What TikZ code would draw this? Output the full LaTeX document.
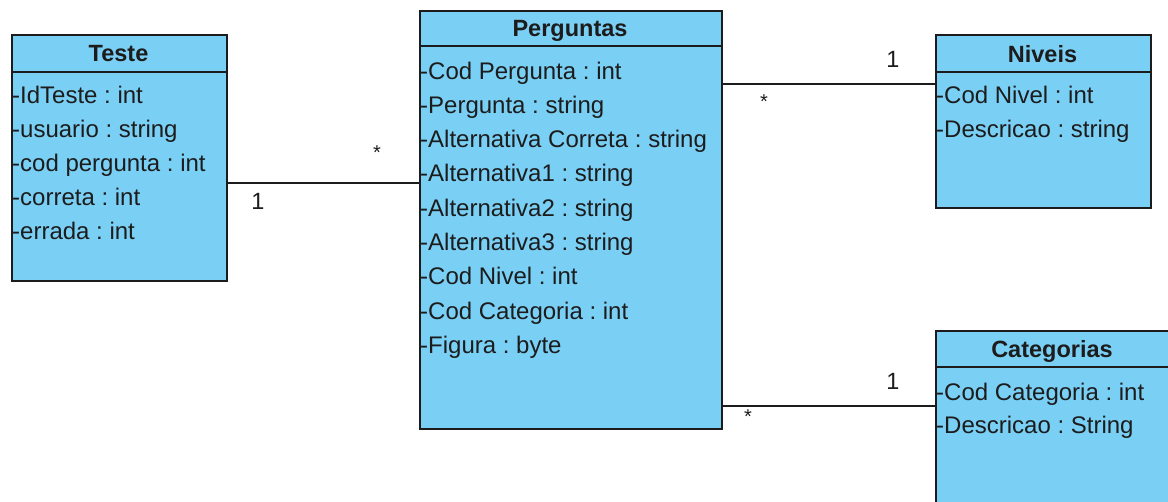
\documentclass[tikz,border=0pt]{standalone}
\usepackage{fontspec}
\setmainfont{Liberation Sans}
\frenchspacing
\definecolor{classfill}{RGB}{122,207,245}
\definecolor{ink}{RGB}{28,28,28}
\begin{document}
\begin{tikzpicture}[x=1pt,y=-1pt,
  classbox/.style={draw=ink, fill=classfill, line width=1.6pt, rectangle, inner sep=0pt, anchor=north west},
  divider/.style={draw=ink, line width=1.6pt},
  classtitle/.style={font=\fontsize{23.5}{28}\selectfont\bfseries, text=ink, inner sep=0pt, anchor=base},
  attr/.style={font=\fontsize{24}{28}\selectfont, text=ink, inner sep=0pt, anchor=base west},
  assoc/.style={draw=ink, line width=1.6pt},
  mult/.style={font=\fontsize{23.5}{28}\selectfont, text=ink, inner sep=0pt, anchor=base},
  star/.style={font=\fontsize{20}{24}\selectfont, text=ink, inner sep=0pt, anchor=north}]
\useasboundingbox (0,0) rectangle (1168,501);
\clip (0,0) rectangle (1168,501);

% class Teste
\node[classbox, minimum width=215pt, minimum height=246pt] (teste) at (11,34) {};
\draw[divider] (teste.west |- 0,72) -- (teste.east |- 0,72);
\node[classtitle] (teste-t) at (118.5,61) {Teste};
\foreach \txt [count=\i from 0] in {-IdTeste : int,-usuario : string,-cod pergunta : int,-correta : int,-errada : int}
  \node[attr] (teste-\i) at (12,103+34*\i) {\txt};

% class Perguntas
\node[classbox, minimum width=302pt, minimum height=418pt] (perg) at (419,10) {};
\draw[divider] (perg.west |- 0,46) -- (perg.east |- 0,46);
\node[classtitle] (perg-t) at (570,36) {Perguntas};
\foreach \txt [count=\i from 0] in {-Cod Pergunta : int,-Pergunta : string,-Alternativa Correta : string,-Alternativa1 : string,-Alternativa2 : string,-Alternativa3 : string,-Cod Nivel : int,-Cod Categoria : int,-Figura : byte}
  \node[attr] (perg-\i) at (420,79+34.3*\i) {\txt};

% class Niveis
\node[classbox, minimum width=215pt, minimum height=173pt] (niv) at (935,34) {};
\draw[divider] (niv.west |- 0,72) -- (niv.east |- 0,72);
\node[classtitle] (niv-t) at (1042.5,62) {Niveis};
\foreach \txt [count=\i from 0] in {-Cod Nivel : int,-Descricao : string}
  \node[attr] (niv-\i) at (936,103+34*\i) {\txt};

% class Categorias
\node[classbox, minimum width=240pt, minimum height=200pt] (cat) at (935,330) {};
\draw[divider] (cat.west |- 0,367) -- (cat.east |- 0,367);
\node[classtitle] (cat-t) at (1052,357) {Categorias};
\foreach \txt [count=\i from 0] in {-Cod Categoria : int,-Descricao : String}
  \node[attr] (cat-\i) at (936,400+33.5*\i) {\txt};

% associations
\draw[assoc] (teste.east |- 0,183) -- (perg.west |- 0,183);
\draw[assoc] (perg.east |- 0,84) -- (niv.west |- 0,84);
\draw[assoc] (perg.east |- 0,406) -- (cat.west |- 0,406);

% multiplicities
\node[mult] (m1) at (258,209) {1};
\node[star] (s1) at (377,146) {*};
\node[mult] (m2) at (893,67) {1};
\node[star] (s2) at (764,95) {*};
\node[mult] (m3) at (893,389) {1};
\node[star] (s3) at (748,410) {*};
\end{tikzpicture}
\end{document}
